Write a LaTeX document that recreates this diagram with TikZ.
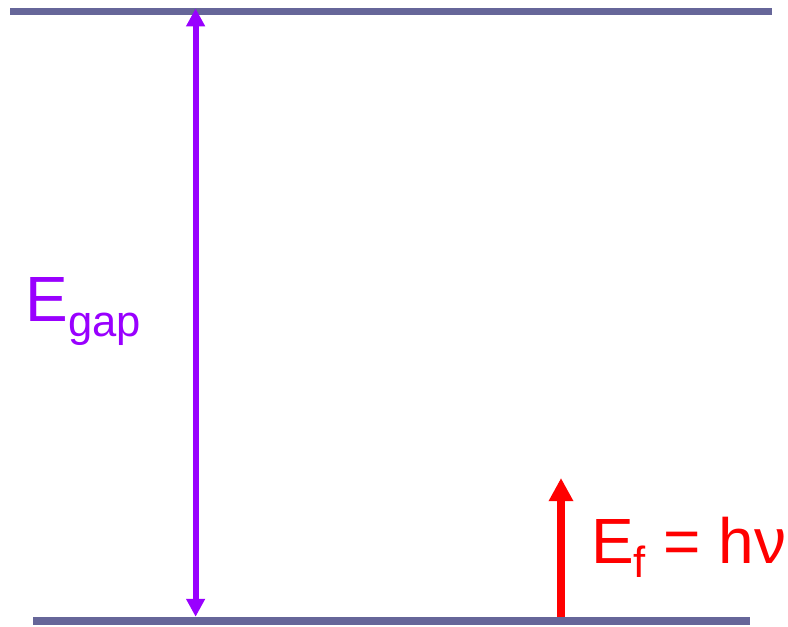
\documentclass[tikz,border=0pt]{standalone}
\usepackage{fontspec}
\setmainfont{Liberation Sans}
\usetikzlibrary{arrows.meta}
\usetikzlibrary{positioning}

\definecolor{levelblue}{RGB}{102,102,153}
\definecolor{gappurple}{RGB}{153,0,255}
\newcommand{\lowsub}[1]{\raisebox{-10.5pt}{\fontsize{31}{34}\selectfont #1}}

\tikzset{
  level/.style={draw=levelblue,line width=5.3pt},
  gaparrow/.style={gappurple,line width=4.3pt,{Triangle[width=0.45cm,length=0.45cm]}-{Triangle[width=0.45cm,length=0.45cm]}},
  photon/.style={red,line width=5.6pt,-{Triangle[width=0.58cm,length=0.58cm]}},
  biglabel/.style={font=\fontsize{45.5}{50}\selectfont,inner sep=0pt,anchor=base west}
}

\begin{document}
\begin{tikzpicture}
\useasboundingbox (0,0) rectangle (19.7,15.65);
% energy levels
\draw[level] (0.25,15.36) -- (19.3,15.36);
\draw[level] (0.825,0.125) -- (18.76,0.125);
\coordinate (gaptop) at (4.89,15.44);
\coordinate (gapbot) at (4.89,0.23);
\coordinate (phbot) at (14.025,0.22);
\coordinate (phtop) at (14.025,3.7);
% gap
\draw[gaparrow] (gaptop) -- (gapbot);
\node[biglabel,text=gappurple] (egap) at (0.63,7.6) {E\lowsub{gap}};
% photon
\draw[photon] (phbot) -- (phtop);
\node[biglabel,text=red] (ef) at (14.77,1.575) {E\lowsub{f} = hν};
\end{tikzpicture}
\end{document}
